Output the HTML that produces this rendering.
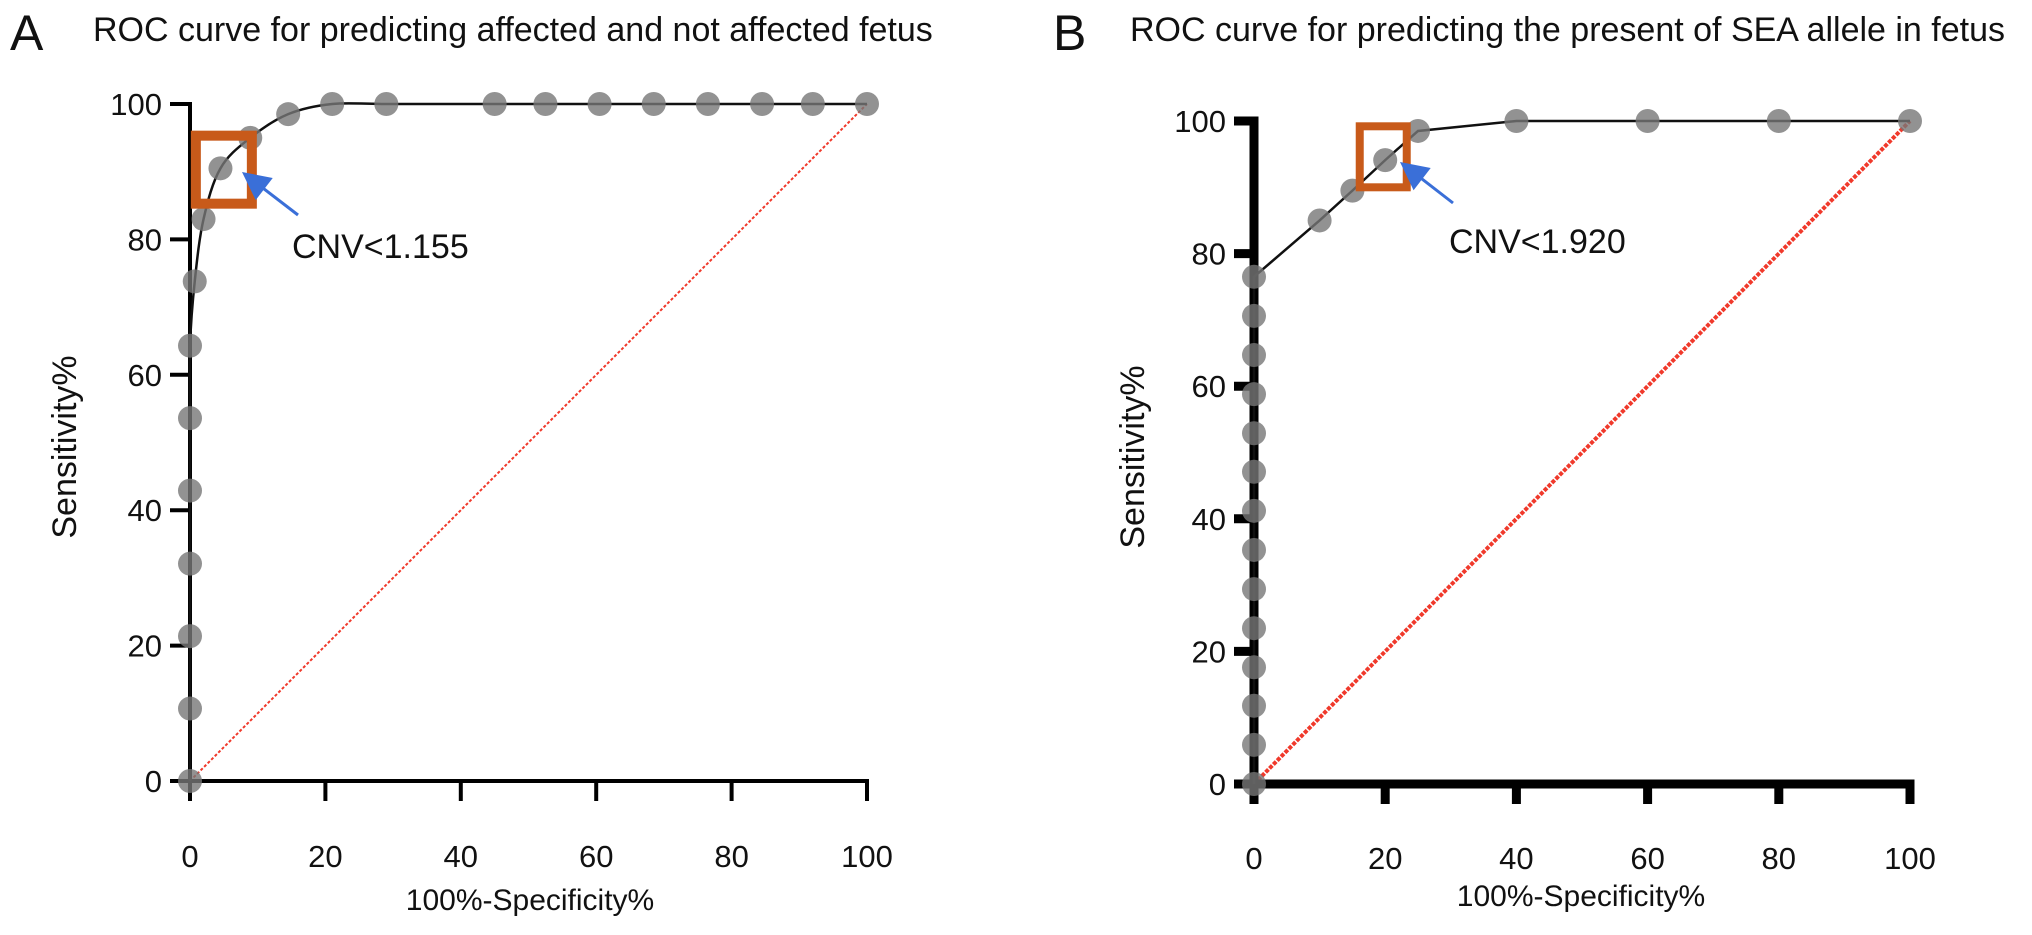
<!DOCTYPE html>
<html><head><meta charset="utf-8"><style>
html,body{margin:0;padding:0;background:#fff;}
svg text{font-family:"Liberation Sans",Arial,sans-serif;fill:#111;}
</style></head><body>
<svg id="svg" width="2032" height="930" viewBox="0 0 2032 930" xmlns="http://www.w3.org/2000/svg"></svg>
<script>
const ticks=[0,20,40,60,80,100];
const aX=[0,0,0,0,0,0,0,0.7,2,4.5,8.9,14.5,21,29,45,52.5,60.5,68.5,76.5,84.5,92,100];
const aY=[0,10.7,21.4,32.1,42.9,53.6,64.3,73.8,83,90.5,95,98.5,100,100,100,100,100,100,100,100,100,100];
const bX=[0,0,0,0,0,0,0,0,0,0,0,0,0,0,10,15,20,25,40,60,80,100];
const bY=[0,5.9,11.8,17.6,23.5,29.4,35.3,41.2,47.1,52.9,58.8,64.7,70.6,76.5,85,89.5,94.1,98.5,100,100,100,100];
const cutA=[5.0,90.3], cutB=[19.7,94.6];
const NS="http://www.w3.org/2000/svg";
const svg=document.getElementById('svg');
function mk(tag,attrs,parent){const e=document.createElementNS(NS,tag);for(const k in attrs)e.setAttribute(k,attrs[k]);(parent||svg).appendChild(e);return e;}
function panel(cfg){
  const g=mk('g',{});
  
  
  const sx=v=>cfg.x0+(cfg.x1-cfg.x0)*v/100, sy=v=>cfg.y0+(cfg.y1-cfg.y0)*v/100;
  const d=mk('line',{x1:sx(0),y1:sy(0),x2:sx(100),y2:sy(100),stroke:'#f0392b','stroke-width':cfg.dw,'stroke-dasharray':cfg.dash},g);
  
  
  const aw=cfg.aw;
  const ya=mk('line',{x1:sx(0),y1:sy(0)+cfg.tl,x2:sx(0),y2:sy(100)-aw/2,stroke:'#000','stroke-width':aw},g);
  
  
  const xa=mk('line',{x1:sx(0)-cfg.tl,y1:sy(0),x2:sx(100)+aw/2,y2:sy(0),stroke:'#000','stroke-width':aw},g);
  
  
  ticks.forEach(t=>{
    mk('line',{x1:sx(0)-cfg.tl,y1:sy(t),x2:sx(0),y2:sy(t),stroke:'#000','stroke-width':aw},g);
    mk('line',{x1:sx(t),y1:sy(0),x2:sx(t),y2:sy(0)+cfg.tl,stroke:'#000','stroke-width':aw},g);
    const yl=mk('text',{x:sx(0)-cfg.tl-8,y:sy(t)+11,'text-anchor':'end','font-size':31},g);yl.textContent=t;
    
    
    const xl=mk('text',{x:sx(t),y:cfg.xly,'text-anchor':'middle','font-size':31},g);xl.textContent=t;
    
    
  });
  let pts=cfg.xs.map((x,i)=>[sx(x),sy(cfg.ys[i])]);
  let dstr='M'+pts[0][0]+','+pts[0][1];
  if(cfg.smooth){
    for(let i=0;i<pts.length-1;i++){
      const p0=pts[Math.max(0,i-1)],p1=pts[i],p2=pts[i+1],p3=pts[Math.min(pts.length-1,i+2)];
      const c1=[p1[0]+(p2[0]-p0[0])/6,p1[1]+(p2[1]-p0[1])/6],c2=[p2[0]-(p3[0]-p1[0])/6,p2[1]-(p3[1]-p1[1])/6];
      dstr+=` C${c1[0]},${c1[1]} ${c2[0]},${c2[1]} ${p2[0]},${p2[1]}`;
    }
  } else pts.slice(1).forEach(p=>dstr+=` L${p[0]},${p[1]}`);
  const c=mk('path',{d:dstr,fill:'none',stroke:'#111','stroke-width':2.5},g);
  
  
  pts.forEach(p=>{
    const dot=mk('circle',{cx:p[0],cy:p[1],r:12,fill:'#777','fill-opacity':0.8},g);
    
    
  });
  const cx=sx(cfg.cut[0]),cy=sy(cfg.cut[1]);
  const bx=mk('rect',{x:cx-cfg.bw/2,y:cy-cfg.bh/2,width:cfg.bw,height:cfg.bh,fill:'none',stroke:'#c85a1a','stroke-width':cfg.bs},g);
  
  
  const [tx,ty,ex,ey]=cfg.arrow;
  const ar=mk('g',{},g);
  
  
  const L0=Math.hypot(ex-tx,ey-ty),ux=(ex-tx)/L0,uy=(ey-ty)/L0;
  mk('line',{x1:ex,y1:ey,x2:tx+ux*20,y2:ty+uy*20,stroke:'#3a6fd8','stroke-width':3},ar);
  const bxp=tx+ux*28,byp=ty+uy*28,px=-uy*14,py=ux*14;
  mk('polygon',{points:`${tx},${ty} ${bxp+px},${byp+py} ${bxp-px},${byp-py}`,fill:'#3a6fd8'},ar);
  const ct=mk('text',{x:cfg.cnvx,y:cfg.cnvy,'font-size':34},g);ct.textContent=cfg.cnv;
  
  
  const yt=mk('text',{x:0,y:0,'font-size':34,'text-anchor':'middle',transform:`translate(${cfg.ytx},${cfg.yty}) rotate(-90)`},g);yt.textContent='Sensitivity%';
  
  
  const xt=mk('text',{x:cfg.xtx,y:cfg.xty,'font-size':30,'text-anchor':'middle'},g);xt.textContent='100%-Specificity%';
  
  
  const Lt=mk('text',{x:cfg.lx,y:50,'font-size':50},g);Lt.textContent=cfg.letter;
  
  
  const T=mk('text',{x:cfg.tx,y:41,'font-size':34},g);T.textContent=cfg.title;
  
  
}
panel({id:'a',x0:190,x1:867,y0:781,y1:104,aw:4,tl:20,dw:2,dash:'3,2',xs:aX,ys:aY,smooth:true,cut:cutA,bw:56,bh:68,bs:10,arrow:[242,172,298,215],
  cnv:'CNV<1.155',cnvx:292,cnvy:258,xly:867,ytx:76,yty:447,xtx:530,xty:910,lx:10,letter:'A',tx:93,title:'ROC curve for predicting affected and not affected fetus'});
panel({id:'b',x0:1254,x1:1910,y0:784,y1:121,aw:9,tl:20,dw:4,dash:'4,1.5',xs:bX,ys:bY,smooth:false,cut:cutB,bw:47,bh:61,bs:8,arrow:[1400,162,1453,203],
  cnv:'CNV<1.920',cnvx:1449,cnvy:253,xly:869,ytx:1144,yty:457,xtx:1581,xty:906,lx:1053,letter:'B',tx:1130,title:'ROC curve for predicting the present of SEA allele in fetus'});
</script>
</body></html>
